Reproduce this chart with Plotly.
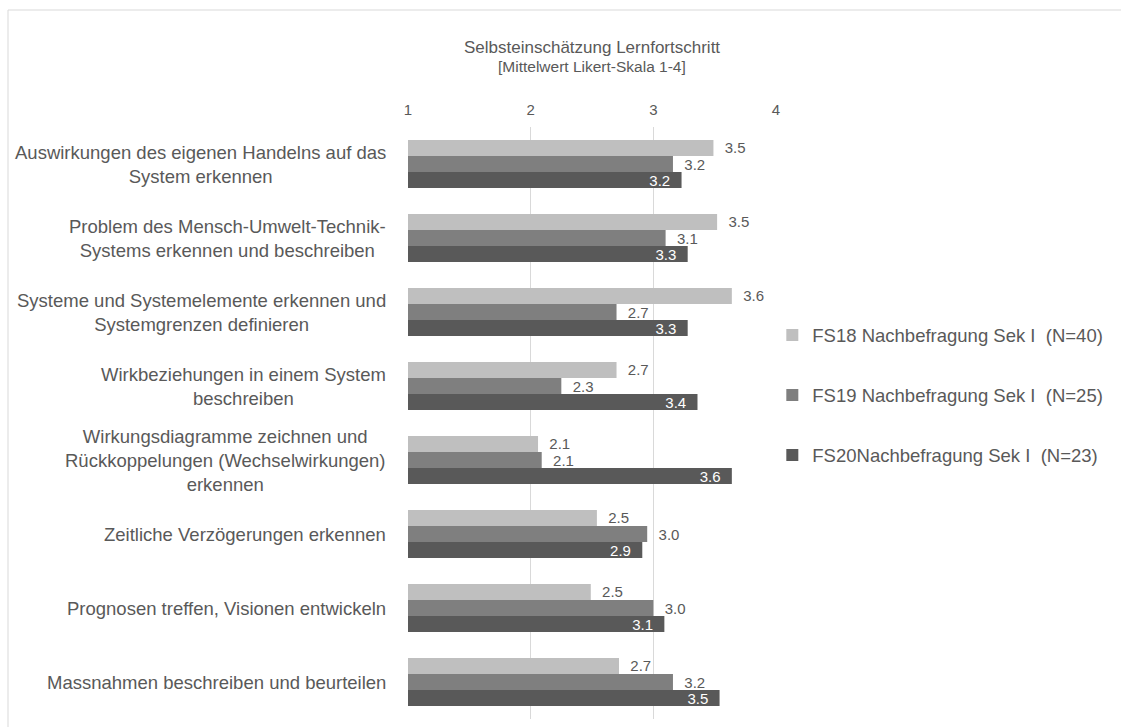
import plotly.graph_objects as go

categories = [
    "Auswirkungen des eigenen Handelns auf das<br>System erkennen",
    "Problem des Mensch-Umwelt-Technik-<br>Systems erkennen und beschreiben",
    "Systeme und Systemelemente erkennen und<br>Systemgrenzen definieren",
    "Wirkbeziehungen in einem System<br>beschreiben",
    "Wirkungsdiagramme zeichnen und<br>Rückkoppelungen (Wechselwirkungen)<br>erkennen",
    "Zeitliche Verzögerungen erkennen",
    "Prognosen treffen, Visionen entwickeln",
    "Massnahmen beschreiben und beurteilen",
]
fs18 = [3.49, 3.52, 3.64, 2.70, 2.06, 2.54, 2.49, 2.72]
fs19 = [3.16, 3.10, 2.70, 2.25, 2.09, 2.95, 3.00, 3.16]
fs20 = [3.23, 3.28, 3.28, 3.36, 3.64, 2.91, 3.09, 3.54]
series_names = [
    "FS18 Nachbefragung Sek I\u00a0\u00a0(N=40)",
    "FS19 Nachbefragung Sek I\u00a0\u00a0(N=25)",
    "FS20Nachbefragung Sek I\u00a0\u00a0(N=23)",
]
x_ticks = [1, 2, 3, 4]

FONT = "Liberation Sans, Arial, sans-serif"
TXT = "#595959"
colors = ["#bfbfbf", "#7f7f7f", "#595959"]

fig = go.Figure()
for i, (vals, name) in enumerate(zip([fs18, fs19, fs20], series_names)):
    inside = (i == 2)
    fig.add_trace(go.Bar(
        y=categories, x=vals, orientation="h", name=name,
        legendgroup=f"g{i}",
        marker=dict(color=colors[i], line=dict(width=0)),
        texttemplate=("%{x:.1f}\u00a0\u00a0" if inside else "\u00a0\u00a0%{x:.1f}"),
        textposition="inside" if inside else "outside",
        insidetextanchor="end",
        constraintext="none",
        textangle=0,
        insidetextfont=dict(color="white", size=15, family=FONT),
        outsidetextfont=dict(color=TXT, size=15, family=FONT),
        cliponaxis=False,
        hoverinfo="skip",
    ))

annotations = []
for c in categories:
    annotations.append(dict(
        xref="paper", x=0, yref="y", y=c, xanchor="right", yanchor="middle",
        xshift=-20, text=c, align="center", showarrow=False,
        font=dict(size=18.5, color=TXT, family=FONT),
    ))
annotations.append(dict(
    xref="paper", x=0.5, yref="paper", y=1.135, xanchor="center", yanchor="middle",
    text="Selbsteinschätzung Lernfortschritt", showarrow=False,
    font=dict(size=17, color=TXT, family=FONT),
))
annotations.append(dict(
    xref="paper", x=0.5, yref="paper", y=1.103, xanchor="center", yanchor="middle",
    text="[Mittelwert Likert-Skala 1-4]", showarrow=False,
    font=dict(size=15.5, color=TXT, family=FONT),
))

fig.update_layout(
    width=1121, height=727,
    margin=dict(l=408, r=345, t=127, b=8),
    paper_bgcolor="white", plot_bgcolor="white",
    barmode="group", bargap=0.35, bargroupgap=0,
    font=dict(family=FONT, color=TXT),
    showlegend=True,
    legend=dict(
        x=0.99, xanchor="left", y=0.68, yanchor="top",
        traceorder="grouped", tracegroupgap=33,
        font=dict(size=18.5, color=TXT, family=FONT),
        bgcolor="rgba(0,0,0,0)",
    ),
    xaxis=dict(
        side="top", range=[1, 4], tickvals=x_ticks, ticktext=[str(t) for t in x_ticks],
        showgrid=True, gridcolor="#d9d9d9", gridwidth=1, zeroline=False,
        showline=False, ticks="", ticklabelstandoff=8,
        tickfont=dict(size=15, color=TXT, family=FONT), fixedrange=True,
    ),
    yaxis=dict(
        autorange="reversed", showticklabels=False, showgrid=False,
        zeroline=False, showline=False, ticks="", fixedrange=True,
    ),
    annotations=annotations,
    shapes=[dict(
        type="rect", xref="paper", yref="paper",
        x0=(8 - 408) / 368, x1=(1130 - 408) / 368,
        y0=(719 - 740) / 592, y1=(719 - 10) / 592,
        line=dict(color="#d9d9d9", width=1), fillcolor="rgba(0,0,0,0)", layer="below",
    )],
)

fig.write_html("out.html")
